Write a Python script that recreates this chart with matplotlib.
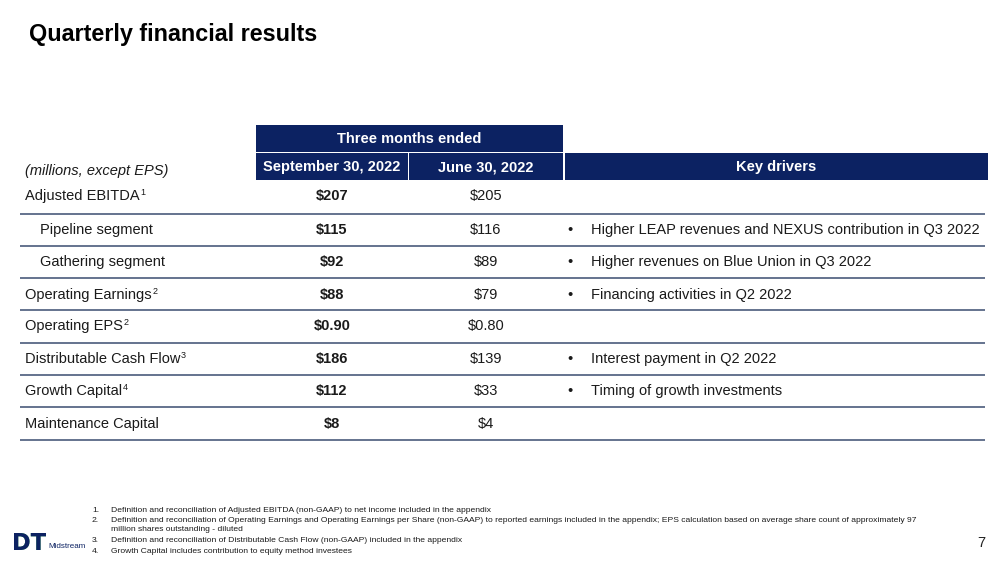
import matplotlib
matplotlib.use("Agg")
import matplotlib.pyplot as plt
from matplotlib.patches import Rectangle, PathPatch
from matplotlib.textpath import TextPath
from matplotlib.font_manager import FontProperties
from matplotlib.transforms import Affine2D

plt.rcParams['font.family'] = ['Liberation Sans', 'DejaVu Sans']
plt.rcParams['text.parse_math'] = False

# data
row_labels = ["Adjusted EBITDA", "Pipeline segment", "Gathering segment",
              "Operating Earnings", "Operating EPS", "Distributable Cash Flow",
              "Growth Capital", "Maintenance Capital"]
row_notes = ["1", "", "", "2", "2", "3", "4", ""]
indented = [False, True, True, False, False, False, False, False]
q3_2022 = ["$207", "$115", "$92", "$88", "$0.90", "$186", "$112", "$8"]
q2_2022 = ["$205", "$116", "$89", "$79", "$0.80", "$139", "$33", "$4"]
drivers = ["", "Higher LEAP revenues and NEXUS contribution in Q3 2022",
           "Higher revenues on Blue Union in Q3 2022", "Financing activities in Q2 2022",
           "", "Interest payment in Q2 2022", "Timing of growth investments", ""]
col_headers = ["September 30, 2022", "June 30, 2022"]
footnotes = [
    ("1.", "Definition and reconciliation of Adjusted EBITDA (non-GAAP) to net income included in the appendix"),
    ("2.", "Definition and reconciliation of Operating Earnings and Operating Earnings per Share (non-GAAP) to reported earnings included in the appendix; EPS calculation based on average share count of approximately 97"),
    ("", "million shares outstanding - diluted"),
    ("3.", "Definition and reconciliation of Distributable Cash Flow (non-GAAP) included in the appendix"),
    ("4.", "Growth Capital includes contribution to equity method investees"),
]

NAVY = '#0c2262'
LINE = '#4a5b7c'
TXT = '#1a1a1a'
GREEN = '#3aa655'

fig = plt.figure(figsize=(10.08, 5.66), dpi=100)
ax = fig.add_axes([0, 0, 1, 1])
ax.set_xlim(0, 1008)
ax.set_ylim(566, 0)
ax.axis('off')
renderer = fig.canvas.get_renderer()

ax.text(29, 35, "Quarterly financial results", fontsize=16.8, fontweight='bold',
        color='black', va='center', ha='left')

# header boxes
ax.add_patch(Rectangle((256, 125), 307, 27, color=NAVY, lw=0))
ax.add_patch(Rectangle((256, 153), 152, 27, color=NAVY, lw=0))
ax.add_patch(Rectangle((409, 153), 154, 27, color=NAVY, lw=0))
ax.add_patch(Rectangle((565, 153), 423, 27, color=NAVY, lw=0))
hdr = dict(color='white', fontsize=10.5, fontweight='bold', ha='center', va='center')
ax.text(409.5, 139, "Three months ended", **hdr)
ax.text(332, 167, col_headers[0], **hdr)
ax.text(486, 167, col_headers[1], **hdr)
ax.text(776, 167, "Key drivers", **hdr)
ax.text(25, 171, "(millions, except EPS)", fontsize=10.5, style='italic', color=TXT,
        ha='left', va='center')

row_y = [196, 230, 262, 295, 326, 359, 391, 424]
line_y = [213.5, 245.5, 278, 310, 342.5, 375, 407, 440]
for i, y in enumerate(row_y):
    x0 = 40 if indented[i] else 25
    t = ax.text(x0, y, row_labels[i], fontsize=10.5, color=TXT, ha='left', va='center')
    if row_notes[i]:
        bb = t.get_window_extent(renderer)
        ax.text(bb.x1 + 0.5, y - 3.5, row_notes[i], fontsize=6.5, color=TXT,
                ha='left', va='center')
    ax.text(332, y, q3_2022[i], fontsize=10.5, fontweight='bold', color=TXT,
            ha='center', va='center')
    ax.text(486, y, q2_2022[i], fontsize=10.5, color=TXT, ha='center', va='center')
    if drivers[i]:
        ax.text(567, y, "\u2022", fontsize=10.5, color=TXT, ha='left', va='center')
        ax.text(591, y, drivers[i], fontsize=10.5, color=TXT, ha='left', va='center')
    ax.plot([20, 985], [line_y[i], line_y[i]], color=LINE, lw=1.2, solid_capstyle='butt')

# footnotes
foot_y = [511, 520.5, 529.5, 540.5, 551.5]
for (num, txt), y in zip(footnotes, foot_y):
    if num:
        ax.text(92, y, num, fontsize=6.1, color=TXT, ha='left', va='center')
    ax.text(111, y, txt, fontsize=6.1, color=TXT, ha='left', va='center')

ax.text(985, 543, "7", fontsize=10.5, color='#222222', ha='right', va='center')

# logo: "DT" in block letters, green top / navy bottom
dt = TextPath((0, 0), "DT", size=10, prop=FontProperties(family='DejaVu Sans', weight='black'))
ext = dt.get_extents()
sx = 32 / ext.width
sy = 17 / ext.height
tr = Affine2D().translate(-ext.x0, -ext.y0).scale(sx, -sy).translate(14, 550) + ax.transData
top = PathPatch(dt, transform=tr, color=GREEN, lw=0)
top.set_clip_path(Rectangle((10, 525), 60, 16, transform=ax.transData))
bot = PathPatch(dt, transform=tr, color=NAVY, lw=0)
bot.set_clip_path(Rectangle((10, 541), 60, 15, transform=ax.transData))
ax.add_patch(top)
ax.add_patch(bot)
ax.text(48, 546, "Midstream", fontsize=5.8, color=NAVY, ha='left', va='center')

fig.savefig("out.png", dpi=100)
